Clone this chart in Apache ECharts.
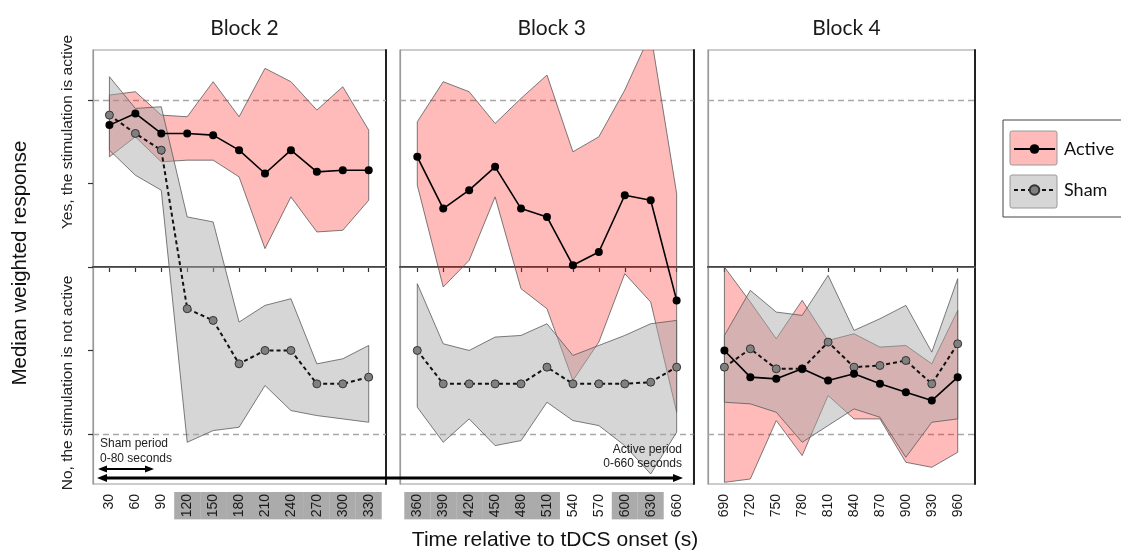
<!DOCTYPE html>
<html>
<head>
<meta charset="utf-8">
<script src="https://cdn.jsdelivr.net/npm/echarts@6/dist/echarts.min.js"></script>
<style>html,body{margin:0;padding:0;background:#fff}#c{width:1121px;height:551px}</style>
</head>
<body>
<div id="c"></div>
<script>
// ---------- data ----------
const blockTitles = ['Block 2', 'Block 3', 'Block 4'];
const b2X = [30, 60, 90, 120, 150, 180, 210, 240, 270, 300, 330];
const b2ActiveMed = [0.85, 0.92, 0.80, 0.80, 0.79, 0.70, 0.56, 0.70, 0.57, 0.58, 0.58];
const b2ActiveUp  = [1.03, 1.05, 0.91, 0.90, 1.11, 0.90, 1.19, 1.11, 0.94, 1.08, 0.82];
const b2ActiveLo  = [0.66, 0.78, 0.63, 0.64, 0.64, 0.54, 0.11, 0.42, 0.21, 0.22, 0.40];
const b2ShamMed   = [0.91, 0.80, 0.70, -0.25, -0.32, -0.58, -0.50, -0.50, -0.70, -0.70, -0.66];
const b2ShamUp    = [1.14, 0.95, 0.96, 0.30, 0.27, -0.33, -0.23, -0.19, -0.58, -0.55, -0.47];
const b2ShamLo    = [0.70, 0.55, 0.46, -1.05, -0.98, -0.96, -0.71, -0.86, -0.89, -0.91, -0.93];

const b3X = [360, 390, 420, 450, 480, 510, 540, 570, 600, 630, 660];
const b3ActiveMed = [0.66, 0.35, 0.46, 0.60, 0.35, 0.30, 0.01, 0.09, 0.43, 0.40, -0.20];
const b3ActiveUp  = [0.87, 1.11, 1.05, 0.86, 1.01, 1.15, 0.69, 0.78, 1.06, 1.40, 0.44];
const b3ActiveLo  = [0.49, -0.12, 0.04, 0.42, -0.13, -0.25, -0.68, -0.45, -0.04, -0.21, -0.87];
const b3ShamMed   = [-0.50, -0.70, -0.70, -0.70, -0.70, -0.60, -0.70, -0.70, -0.70, -0.69, -0.60];
const b3ShamUp    = [-0.10, -0.46, -0.50, -0.42, -0.41, -0.34, -0.53, -0.47, -0.41, -0.34, -0.32];
const b3ShamLo    = [-0.84, -1.05, -0.91, -1.07, -1.04, -0.81, -0.92, -0.95, -1.07, -1.24, -0.99];

const b4X = [690, 720, 750, 780, 810, 840, 870, 900, 930, 960];
const b4ActiveMed = [-0.50, -0.66, -0.67, -0.61, -0.68, -0.64, -0.70, -0.75, -0.80, -0.66];
const b4ActiveUp  = [0.00, -0.21, -0.43, -0.20, -0.44, -0.40, -0.48, -0.47, -0.58, -0.26];
const b4ActiveLo  = [-1.29, -1.27, -0.92, -1.13, -0.77, -0.91, -0.91, -1.17, -1.20, -1.11];
const b4ShamMed   = [-0.60, -0.49, -0.61, -0.61, -0.45, -0.60, -0.59, -0.56, -0.70, -0.46];
const b4ShamUp    = [-0.41, -0.14, -0.27, -0.29, -0.05, -0.38, -0.31, -0.23, -0.51, -0.07];
const b4ShamLo    = [-0.81, -0.82, -0.87, -1.05, -0.95, -0.85, -0.90, -1.14, -0.93, -0.91];

const highlightTicks = [120, 150, 180, 210, 240, 270, 300, 330, 360, 390, 420, 450, 480, 510, 600, 630];
const yTicks = [-1, -0.5, 0, 0.5, 1];
const seriesNames = ['Active', 'Sham'];

// ---------- layout ----------
const SANS = '"Liberation Sans", Arial, sans-serif';
const CAL = 'Lato, "Open Sans", sans-serif';
const PINK = 'rgba(255,0,0,0.27)';
const GREY = 'rgba(168,168,168,0.47)';
const panels = [
  {x: b2X, aM: b2ActiveMed, aU: b2ActiveUp, aL: b2ActiveLo, sM: b2ShamMed, sU: b2ShamUp, sL: b2ShamLo,
   grid: {left: 93, top: 50, width: 293, height: 434}, min: 11, max: 350},
  {x: b3X, aM: b3ActiveMed, aU: b3ActiveUp, aL: b3ActiveLo, sM: b3ShamMed, sU: b3ShamUp, sL: b3ShamLo,
   grid: {left: 400, top: 50, width: 293.5, height: 434}, min: 340, max: 679.5},
  {x: b4X, aM: b4ActiveMed, aU: b4ActiveUp, aL: b4ActiveLo, sM: b4ShamMed, sU: b4ShamUp, sL: b4ShamLo,
   grid: {left: 708, top: 50, width: 267, height: 434}, min: 671, max: 980}
];

const grids = [], xAxes = [], yAxes = [], series = [], titles = [];
const labelRich = {
  h: {backgroundColor: '#ababab', padding: [6, 2, 6, 2], lineHeight: 14, fontSize: 14, color: '#1a1a1a', fontFamily: SANS},
  n: {padding: [6, 2, 6, 2], lineHeight: 14, fontSize: 14, color: '#1a1a1a', fontFamily: SANS}
};

function band(gi, xs, lo, up, fill, name) {
  return {
    type: 'custom', name: name, xAxisIndex: gi, yAxisIndex: gi, clip: true, silent: true, z: 2,
    data: xs.map((x, i) => [x, lo[i], up[i]]),
    encode: {x: 0, y: [1, 2]},
    renderItem: function (params, api) {
      if (params.dataIndexInside !== 0) return null;
      const n = params.dataInsideLength;
      const top = [], bot = [];
      for (let i = 0; i < n; i++) {
        top.push(api.coord([api.value(0, i), api.value(2, i)]));
        bot.push(api.coord([api.value(0, i), api.value(1, i)]));
      }
      return {type: 'polygon', shape: {points: top.concat(bot.reverse())},
              style: {fill: fill, stroke: '#5a5a5a', lineWidth: 0.8}};
    }
  };
}

panels.forEach((p, gi) => {
  grids.push(Object.assign({show: true, borderColor: '#9a9a9a', borderWidth: 1.2, backgroundColor: '#fff'}, p.grid));
  titles.push({text: blockTitles[gi], left: p.grid.left + p.grid.width / 2, top: 13, textAlign: 'center',
    textStyle: {fontFamily: CAL, fontSize: 21, fontWeight: 'normal', color: '#1a1a1a'}});
  xAxes.push({
    type: 'value', gridIndex: gi, min: p.min, max: p.max,
    splitLine: {show: false},
    axisLine: {show: true, lineStyle: {color: '#444', width: 2}},
    axisTick: {show: true, customValues: p.x, length: 5, lineStyle: {color: '#333', width: 1.2}},
    axisLabel: {show: true, customValues: p.x, rotate: 90, margin: 8,
      formatter: v => highlightTicks.indexOf(v) >= 0 ? '{h|' + v + '}' : '{n|' + v + '}',
      rich: labelRich}
  });
  yAxes.push({
    type: 'value', gridIndex: gi, min: -1.3, max: 1.3,
    splitLine: {show: false},
    axisLine: {show: true, lineStyle: {color: '#9a9a9a', width: 1.2}},
    axisTick: gi === 0 ? {show: true, customValues: yTicks, length: 5, lineStyle: {color: '#333', width: 1.2}} : {show: false},
    axisLabel: {show: false}
  });
});
// dark right edges
panels.forEach((p, gi) => {
  yAxes.push({type: 'value', gridIndex: gi, position: 'right', min: -1.3, max: 1.3,
    splitLine: {show: false}, axisTick: {show: false}, axisLabel: {show: false},
    axisLine: {show: true, lineStyle: {color: '#222', width: 2}}});
});

panels.forEach((p, gi) => {
  series.push(band(gi, p.x, p.aL, p.aU, PINK, 'Active band'));
  series.push(band(gi, p.x, p.sL, p.sU, GREY, 'Sham band'));
  series.push({
    type: 'line', name: seriesNames[1], xAxisIndex: gi, yAxisIndex: gi, z: 4,
    data: p.x.map((x, i) => [x, p.sM[i]]),
    symbol: 'circle', symbolSize: 8, showSymbol: true,
    lineStyle: {color: '#111', width: 2, type: [4, 3]},
    itemStyle: {color: '#808080', borderColor: '#333', borderWidth: 1},
    emphasis: {disabled: true}
  });
  series.push({
    type: 'line', name: seriesNames[0], xAxisIndex: gi, yAxisIndex: gi, z: 5,
    data: p.x.map((x, i) => [x, p.aM[i]]),
    symbol: 'circle', symbolSize: 8, showSymbol: true,
    lineStyle: {color: '#000', width: 1.6},
    itemStyle: {color: '#000'},
    emphasis: {disabled: true},
    markLine: {silent: true, symbol: 'none', label: {show: false}, z: 1,
      data: [
        {yAxis: 1, lineStyle: {color: '#a8a8a8', type: [6, 4], width: 1.3}},
        {yAxis: -1, lineStyle: {color: '#a8a8a8', type: [6, 4], width: 1.3}},
        {yAxis: 0, lineStyle: {color: '#666', type: 'solid', width: 1.2}}
      ]}
  });
});

function arrowHead(x, y, dir, s, w) {
  return {type: 'polygon', z: 50, shape: {points: [[x, y], [x - dir * s, y - w], [x - dir * s, y + w]]}, style: {fill: '#000'}};
}

const graphics = [
  // legend frame and swatches
  {type: 'rect', z: 0, shape: {x: 1003, y: 120, width: 140, height: 97}, style: {fill: '#fff', stroke: '#444', lineWidth: 1}},
  {type: 'rect', z: 1, shape: {x: 1010, y: 131, width: 47, height: 34, r: 2}, style: {fill: PINK, stroke: '#9a9a9a', lineWidth: 1}},
  {type: 'rect', z: 1, shape: {x: 1010, y: 175, width: 47, height: 33, r: 2}, style: {fill: GREY, stroke: '#9a9a9a', lineWidth: 1}},
  // axis side texts
  {type: 'text', x: 20, y: 263, rotation: Math.PI / 2, style: {text: 'Median weighted response', fontSize: 20.5, fontFamily: SANS, fill: '#111', align: 'center', verticalAlign: 'middle'}},
  {type: 'text', x: 68, y: 132, rotation: Math.PI / 2, style: {text: 'Yes, the stimulation is active', fontSize: 15.5, fontFamily: SANS, fill: '#222', align: 'center', verticalAlign: 'middle'}},
  {type: 'text', x: 68, y: 383, rotation: Math.PI / 2, style: {text: 'No, the stimulation is not active', fontSize: 15.5, fontFamily: SANS, fill: '#222', align: 'center', verticalAlign: 'middle'}},
  {type: 'text', x: 555, y: 540, style: {text: 'Time relative to tDCS onset (s)', fontSize: 21, fontFamily: SANS, fill: '#111', align: 'center', verticalAlign: 'middle'}},
  // period annotations
  {type: 'text', z: 50, x: 100, y: 444, style: {text: 'Sham period', fontSize: 12, fontFamily: SANS, fill: '#222', align: 'left', verticalAlign: 'middle'}},
  {type: 'text', z: 50, x: 100, y: 459, style: {text: '0-80 seconds', fontSize: 12, fontFamily: SANS, fill: '#222', align: 'left', verticalAlign: 'middle'}},
  {type: 'text', z: 50, x: 682, y: 450, style: {text: 'Active period', fontSize: 12, fontFamily: SANS, fill: '#222', align: 'right', verticalAlign: 'middle'}},
  {type: 'text', z: 50, x: 682, y: 464, style: {text: '0-660 seconds', fontSize: 12, fontFamily: SANS, fill: '#222', align: 'right', verticalAlign: 'middle'}},
  {type: 'line', z: 50, shape: {x1: 104, y1: 469, x2: 148, y2: 469}, style: {stroke: '#000', lineWidth: 2}},
  arrowHead(98, 469, -1, 9, 3.5),
  arrowHead(154, 469, 1, 9, 3.5),
  {type: 'line', z: 50, shape: {x1: 104, y1: 478, x2: 676, y2: 478}, style: {stroke: '#000', lineWidth: 3}},
  arrowHead(97, 478, -1, 10, 4),
  arrowHead(683, 478, 1, 10, 4)
];

const chart = echarts.init(document.getElementById('c'), null, {renderer: 'canvas'});
chart.setOption({
  animation: false,
  backgroundColor: '#fff',
  title: titles,
  grid: grids,
  xAxis: xAxes,
  yAxis: yAxes,
  legend: {
    data: seriesNames, orient: 'vertical', left: 1008, top: 135, itemWidth: 41, itemHeight: 12, itemGap: 23,
    selectedMode: false, z: 10,
    textStyle: {fontFamily: CAL, fontSize: 18, color: '#111', padding: [0, 0, 0, 4]}
  },
  graphic: graphics,
  series: series
});
</script>
</body>
</html>
